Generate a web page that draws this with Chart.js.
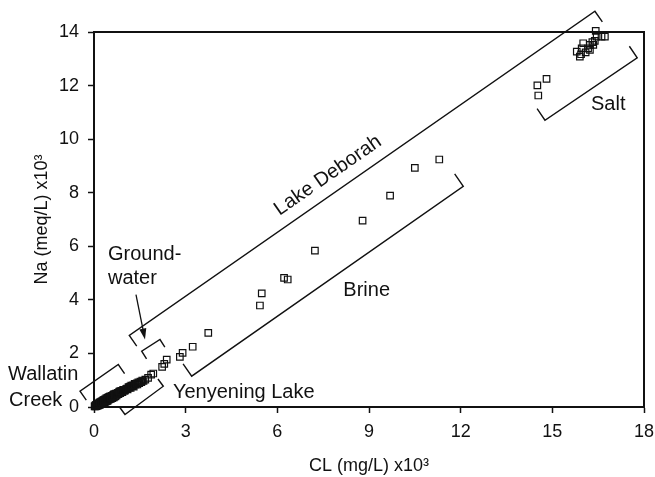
<!DOCTYPE html>
<html>
<head>
<meta charset="utf-8">
<script src="https://cdn.jsdelivr.net/npm/chart.js@4.4.1/dist/chart.umd.min.js"></script>
<style>
  html, body { margin: 0; padding: 0; background: #fff; }
</style>
</head>
<body>
<canvas id="my-chart" width="655" height="477"></canvas>
<script>
// Na vs Cl, values x10^3
const wallatinX = [0.02,0.04,0.05,0.07,0.08,0.1,0.11,0.12,0.14,0.15,0.17,0.18,0.2,0.21,0.22,0.24,0.25,0.27,0.28,0.3,0.31,0.33,0.35,0.36,0.38,0.4,0.42,0.44,0.45,0.47,0.48,0.5,0.52,0.53,0.56,0.58,0.6,0.63,0.65,0.66,0.7,0.72,0.74,0.78,0.8,0.82,0.86,0.9,0.93,0.95,1.0,1.05,1.1,1.15,1.2,1.25,1.3,1.36,1.42,1.48,1.55,1.62,1.68,1.77,
  0.06,0.13,0.19,0.26,0.32,0.39,0.46,0.55,0.62,0.68,0.76,0.84,0.88,0.97,1.02,1.08,1.13,1.18,1.22,1.28,1.33,1.4,1.45,1.52,1.58];
const wallatinY = [0.02,0.05,0.02,0.08,0.03,0.1,0.05,0.12,0.06,0.14,0.08,0.16,0.09,0.18,0.11,0.2,0.13,0.22,0.14,0.25,0.16,0.27,0.18,0.29,0.2,0.32,0.22,0.34,0.24,0.36,0.27,0.38,0.29,0.4,0.31,0.42,0.33,0.45,0.36,0.48,0.4,0.5,0.43,0.53,0.48,0.56,0.52,0.6,0.55,0.63,0.6,0.67,0.66,0.72,0.71,0.78,0.76,0.83,0.84,0.89,0.93,0.97,1.02,1.09,
  0.06,0.1,0.15,0.17,0.22,0.26,0.3,0.36,0.4,0.46,0.5,0.58,0.58,0.64,0.64,0.69,0.74,0.76,0.8,0.81,0.86,0.88,0.92,0.95,0.99];
const lakeX = [1.87,1.94,2.23,2.30,2.38,2.81,2.90,3.23,3.74];
const lakeY = [1.21,1.25,1.50,1.61,1.77,1.87,2.02,2.25,2.77];
const brineX = [5.43,5.49,6.22,6.34,7.23,8.79,9.69,10.50,11.30];
const brineY = [3.79,4.24,4.82,4.76,5.84,6.96,7.89,8.93,9.24];
const saltX = [14.51,14.54,14.81,15.80,15.90,15.94,15.96,16.01,16.09,16.17,16.23,16.23,16.31,16.34,16.39,16.42,16.45,16.61,16.72];
const saltY = [12.01,11.63,12.25,13.27,13.08,13.17,13.39,13.58,13.24,13.39,13.52,13.33,13.62,13.52,13.67,14.04,13.83,13.83,13.83];

const xTicks = [0, 3, 6, 9, 12, 15, 18];
const yTicks = [0, 2, 4, 6, 8, 10, 12, 14];

// brackets: ends in data units, side of the end ticks, tick length px
const brackets = [
  { from: [1.155, 2.669], to: [16.394, 14.774], side: 1, tick: 13 },   // Lake Deborah
  { from: [14.758, 10.705], to: [17.778, 13.035], side: -1, tick: 14 }, // Salt
  { from: [3.197, 1.150], to: [12.085, 8.242], side: -1, tick: 15 },    // Brine
  { from: [1.561, 2.083], to: [2.160, 2.520], side: 1, tick: 9 },       // Groundwater
  { from: [-0.458, 0.590], to: [0.795, 1.586], side: 1, tick: 11 },     // Wallatin Creek
  { from: [1.014, -0.280], to: [2.268, 0.776], side: -1, tick: 9 },     // Yenyening Lake
];
const labels = [
  { text: 'Salt', at: [16.83, 11.29], align: 'center' },
  { text: 'Brine', at: [8.924, 4.349], align: 'center' },
  { text: 'Ground-', at: [0.458, 5.692], align: 'left' },
  { text: 'water', at: [0.458, 4.797], align: 'left' },
  { text: 'Wallatin', at: [-2.814, 1.213], align: 'left' },
  { text: 'Creek', at: [-2.781, 0.243], align: 'left' },
  { text: 'Yenyening Lake', at: [2.585, 0.541], align: 'left' },
];
const deborahLabel = { text: 'Lake Deborah', at: [7.657, 8.641] };
const arrow = { from: [1.374, 4.199], to: [1.669, 2.520] };

const ink = '#111';
Chart.defaults.font.family = "'Liberation Sans', Arial, sans-serif";
Chart.defaults.font.size = 18;
Chart.defaults.color = ink;

const pts = (xs, ys) => xs.map((v, i) => ({ x: v, y: ys[i] }));
const style = {
  showLine: false,
  pointStyle: 'rect',
  pointRadius: 4.6,
  pointHoverRadius: 4.6,
  pointBorderWidth: 1.2,
  borderColor: ink,
  backgroundColor: 'rgba(0,0,0,0)',
  clip: false,
};

const annotate = {
  id: 'annotate',
  afterDraw(chart) {
    const { ctx, chartArea: a, scales: { x, y } } = chart;
    const px = p => [x.getPixelForValue(p[0]), y.getPixelForValue(p[1])];
    ctx.save();
    // top and right frame
    ctx.strokeStyle = ink;
    ctx.lineWidth = 2;
    ctx.beginPath();
    ctx.moveTo(a.left, a.top);
    ctx.lineTo(a.right, a.top);
    ctx.lineTo(a.right, a.bottom);
    ctx.stroke();

    ctx.lineWidth = 1.4;
    brackets.forEach(b => {
      const [ax, ay] = px(b.from), [bx, by] = px(b.to);
      const len = Math.hypot(bx - ax, by - ay);
      const nx = -(by - ay) / len * b.side * b.tick;
      const ny = (bx - ax) / len * b.side * b.tick;
      ctx.beginPath();
      ctx.moveTo(ax + nx, ay + ny);
      ctx.lineTo(ax, ay);
      ctx.lineTo(bx, by);
      ctx.lineTo(bx + nx, by + ny);
      ctx.stroke();
    });

    ctx.fillStyle = ink;
    ctx.font = "20px 'Liberation Sans', Arial, sans-serif";
    ctx.textBaseline = 'middle';
    labels.forEach(l => {
      const [lx, ly] = px(l.at);
      ctx.textAlign = l.align;
      ctx.fillText(l.text, lx, ly);
    });

    const [d0x, d0y] = px(brackets[0].from), [d1x, d1y] = px(brackets[0].to);
    const [dx, dy] = px(deborahLabel.at);
    ctx.save();
    ctx.translate(dx, dy);
    ctx.rotate(Math.atan2(d1y - d0y, d1x - d0x));
    ctx.textAlign = 'center';
    ctx.fillText(deborahLabel.text, 0, 0);
    ctx.restore();

    // arrow
    const [tx, ty] = px(arrow.from), [hx, hy] = px(arrow.to);
    const ang = Math.atan2(hy - ty, hx - tx);
    ctx.lineWidth = 1.3;
    ctx.beginPath();
    ctx.moveTo(tx, ty);
    ctx.lineTo(hx - 8 * Math.cos(ang), hy - 8 * Math.sin(ang));
    ctx.stroke();
    ctx.beginPath();
    ctx.moveTo(hx, hy);
    ctx.lineTo(hx - 11 * Math.cos(ang) + 3.5 * Math.sin(ang), hy - 11 * Math.sin(ang) - 3.5 * Math.cos(ang));
    ctx.lineTo(hx - 11 * Math.cos(ang) - 3.5 * Math.sin(ang), hy - 11 * Math.sin(ang) + 3.5 * Math.cos(ang));
    ctx.closePath();
    ctx.fill();
    ctx.restore();
  }
};

new Chart(document.getElementById('my-chart').getContext('2d'), {
  type: 'scatter',
  data: {
    datasets: [
      { label: 'Wallatin Creek', data: pts(wallatinX, wallatinY), ...style },
      { label: 'Groundwater / Yenyening', data: pts(lakeX, lakeY), ...style },
      { label: 'Brine', data: pts(brineX, brineY), ...style },
      { label: 'Salt', data: pts(saltX, saltY), ...style },
    ]
  },
  options: {
    responsive: false,
    animation: false,
    events: [],
    layout: { padding: { top: 32, right: 11, left: 0, bottom: 0 } },
    plugins: { legend: { display: false }, tooltip: { enabled: false } },
    scales: {
      x: {
        type: 'linear', min: 0, max: 18,
        afterBuildTicks: s => { s.ticks = xTicks.map(v => ({ value: v })); },
        afterFit: s => { s.height = 70; s.paddingLeft = 0; s.paddingRight = 0; },
        ticks: { padding: 8, color: ink },
        grid: { drawOnChartArea: false, tickLength: 6, tickColor: ink, tickWidth: 1.5 },
        border: { display: true, color: ink, width: 2 },
        title: { display: true, text: 'CL (mg/L) x10³', padding: { top: 0, bottom: 0 }, color: ink }
      },
      y: {
        type: 'linear', min: 0, max: 14,
        afterBuildTicks: s => { s.ticks = yTicks.map(v => ({ value: v })); },
        afterFit: s => { s.width = 94; s.paddingTop = 0; s.paddingBottom = 0; },
        ticks: { padding: 9, color: ink },
        grid: { drawOnChartArea: false, tickLength: 6, tickColor: ink, tickWidth: 1.5 },
        border: { display: true, color: ink, width: 2 },
        title: { display: true, text: 'Na (meq/L) x10³', padding: { top: 31, bottom: 0 }, color: ink }
      }
    }
  },
  plugins: [annotate]
});
</script>
</body>
</html>
